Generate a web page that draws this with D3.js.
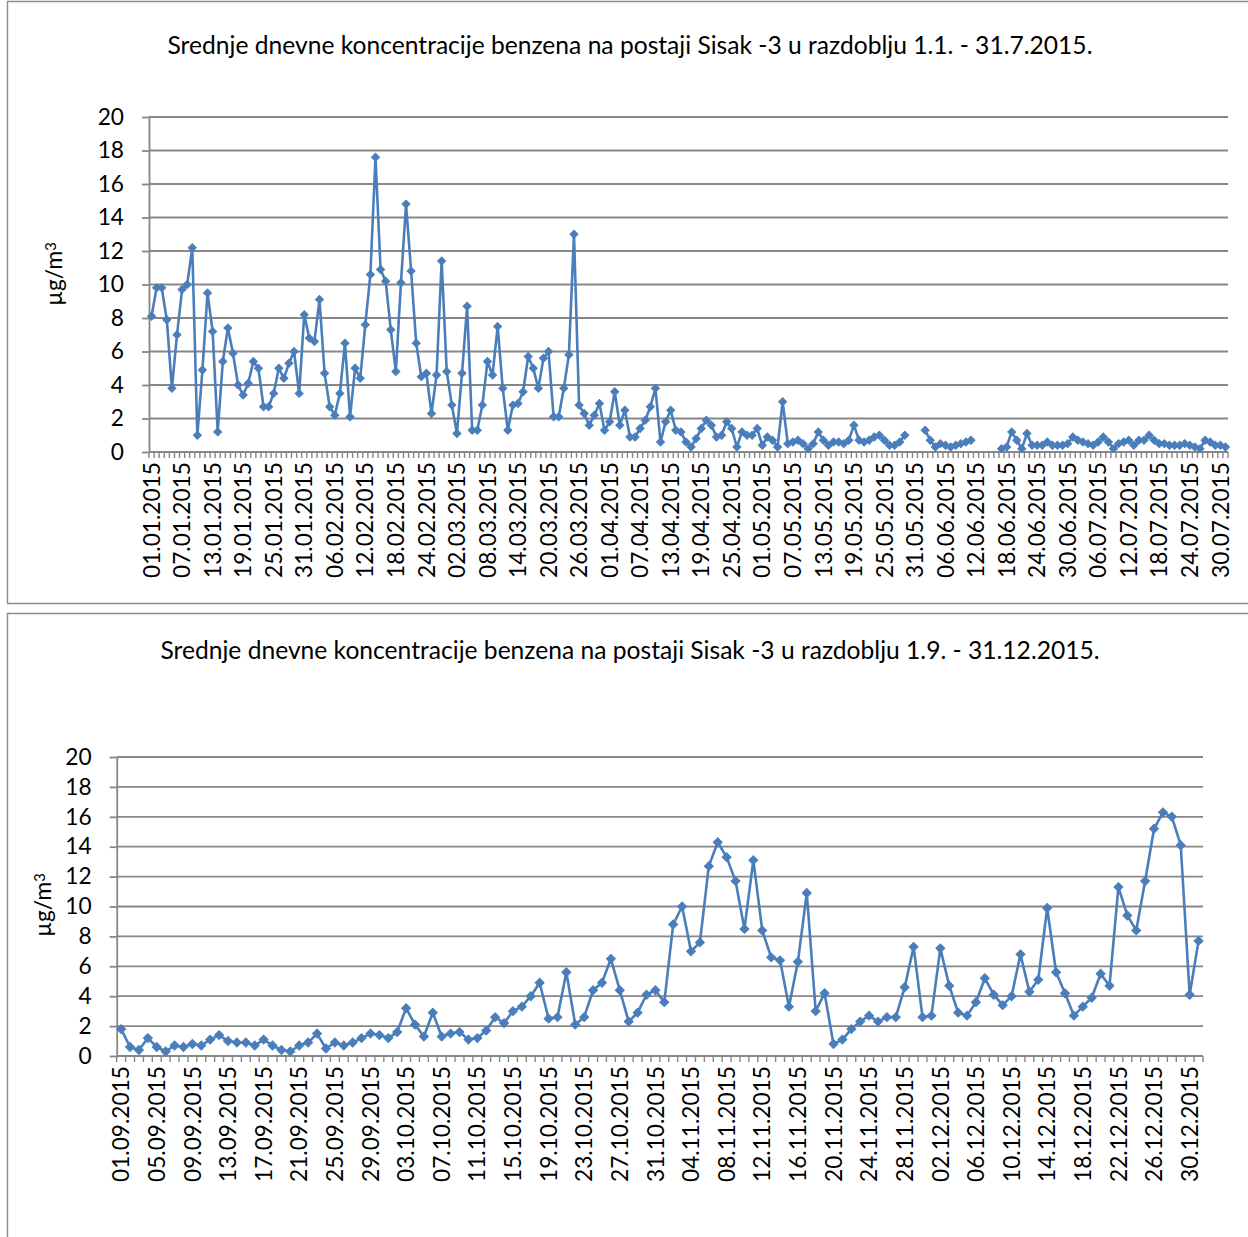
<!DOCTYPE html>
<html>
<head>
<meta charset="utf-8">
<script src="https://cdn.jsdelivr.net/npm/d3@7"></script>
<style>
  body { margin: 0; background: #fff; }
  svg { display: block; font-family: Lato, "Open Sans", sans-serif; }
</style>
</head>
<body>
<svg id="chart" width="1248" height="1237"></svg>
<script>
// chart titles
var titleJanJul = "Srednje dnevne koncentracije benzena na postaji Sisak -3 u razdoblju 1.1. - 31.7.2015.";
var titleSepDec = "Srednje dnevne koncentracije benzena na postaji Sisak -3 u razdoblju 1.9. - 31.12.2015.";

// y axis ticks (µg/m3)
var yTicks = [0, 2, 4, 6, 8, 10, 12, 14, 16, 18, 20];

// daily periods (end is exclusive) and the step between date labels
var periodJanJul = [new Date(2015, 0, 1), new Date(2015, 7, 1)];
var periodSepDec = [new Date(2015, 8, 1), new Date(2016, 0, 1)];
var labelStepJanJul = 6;
var labelStepSepDec = 4;

// daily mean benzene, 1.1. - 31.7.2015 (null = no measurement)
var benzeneJanJul = [
  8.1, 9.8, 9.8, 7.9, 3.8, 7.0, 9.7, 10.0, 12.2, 1.0,
  4.9, 9.5, 7.2, 1.2, 5.4, 7.4, 5.9, 4.0, 3.4, 4.1,
  5.4, 5.0, 2.7, 2.7, 3.5, 5.0, 4.4, 5.3, 6.0, 3.5,
  8.2, 6.8, 6.6, 9.1, 4.7, 2.7, 2.2, 3.5, 6.5, 2.1,
  5.0, 4.4, 7.6, 10.6, 17.6, 10.9, 10.2, 7.3, 4.8, 10.1,
  14.8, 10.8, 6.5, 4.5, 4.7, 2.3, 4.6, 11.4, 4.8, 2.8,
  1.1, 4.7, 8.7, 1.3, 1.3, 2.8, 5.4, 4.6, 7.5, 3.8,
  1.3, 2.8, 2.9, 3.6, 5.7, 5.0, 3.8, 5.6, 6.0, 2.1,
  2.1, 3.8, 5.8, 13.0, 2.8, 2.3, 1.6, 2.2, 2.9, 1.3,
  1.8, 3.6, 1.6, 2.5, 0.9, 0.9, 1.4, 1.9, 2.7, 3.8,
  0.6, 1.8, 2.5, 1.3, 1.2, 0.6, 0.3, 0.8, 1.4, 1.9,
  1.6, 0.9, 1.0, 1.8, 1.4, 0.3, 1.2, 1.0, 1.0, 1.4,
  0.4, 0.9, 0.7, 0.3, 3.0, 0.5, 0.6, 0.7, 0.5, 0.2,
  0.5, 1.2, 0.7, 0.4, 0.6, 0.6, 0.5, 0.7, 1.6, 0.7,
  0.6, 0.7, 0.9, 1.0, 0.7, 0.4, 0.4, 0.6, 1.0, null,
  null, null, 1.3, 0.7, 0.3, 0.5, 0.4, 0.3, 0.4, 0.5,
  0.6, 0.7, null, null, null, null, null, 0.2, 0.3, 1.2,
  0.7, 0.2, 1.1, 0.4, 0.4, 0.4, 0.6, 0.4, 0.4, 0.4,
  0.5, 0.9, 0.7, 0.6, 0.5, 0.4, 0.6, 0.9, 0.6, 0.2,
  0.5, 0.6, 0.7, 0.4, 0.7, 0.7, 1.0, 0.7, 0.5, 0.5,
  0.4, 0.4, 0.4, 0.5, 0.4, 0.3, 0.2, 0.7, 0.6, 0.4,
  0.4, 0.3
];

// daily mean benzene, 1.9. - 31.12.2015
var benzeneSepDec = [
  1.8, 0.6, 0.4, 1.2, 0.6, 0.3, 0.7, 0.6, 0.8, 0.7,
  1.1, 1.4, 1.0, 0.9, 0.9, 0.7, 1.1, 0.7, 0.4, 0.3,
  0.7, 0.9, 1.5, 0.5, 0.9, 0.7, 0.9, 1.2, 1.5, 1.4,
  1.2, 1.6, 3.2, 2.1, 1.3, 2.9, 1.3, 1.5, 1.6, 1.1,
  1.2, 1.7, 2.6, 2.2, 3.0, 3.3, 4.0, 4.9, 2.5, 2.6,
  5.6, 2.1, 2.6, 4.4, 4.9, 6.5, 4.4, 2.3, 2.9, 4.1,
  4.4, 3.6, 8.8, 10.0, 7.0, 7.6, 12.7, 14.3, 13.3, 11.7,
  8.5, 13.1, 8.4, 6.6, 6.4, 3.3, 6.3, 10.9, 3.0, 4.2,
  0.8, 1.1, 1.8, 2.3, 2.7, 2.3, 2.6, 2.6, 4.6, 7.3,
  2.6, 2.7, 7.2, 4.7, 2.9, 2.7, 3.6, 5.2, 4.1, 3.4,
  4.0, 6.8, 4.3, 5.1, 9.9, 5.6, 4.2, 2.7, 3.3, 3.9,
  5.5, 4.7, 11.3, 9.4, 8.4, 11.7, 15.2, 16.3, 16.0, 14.1,
  4.1, 7.7
];

var lineColor = "#4a7ebb";
var gridColor = "#878787";
var frameColor = "#8c8c8c";
var fmtDay = d3.timeFormat("%d.%m.%Y");

var svg = d3.select("#chart");

function textWidth (str, size) {
  var t = svg.append("text").style("font-size", size + "px").text(str);
  var w = t.node().getComputedTextLength();
  t.remove();
  return w;
}

// sizes fitted so the texts take the same room as in the original
var tickFont = 100 * 116 / textWidth("01.01.2015", 100);
var titleFont = 100 * 925 / textWidth(titleJanJul, 100);

function drawChart (opt) {
  var days = d3.timeDay.range(opt.period[0], opt.period[1]);
  var rows = days.map(function (d, i) { return { day: d, value: opt.values[i] }; });

  var frame = svg.append("g");
  frame.append("path")
    .attr("d", opt.framePath)
    .attr("fill", "none")
    .attr("stroke", frameColor)
    .attr("stroke-width", 1.4);

  frame.append("text")
    .attr("x", opt.titleX)
    .attr("y", opt.titleY)
    .attr("text-anchor", "middle")
    .style("font-size", titleFont + "px")
    .style("fill", "#000")
    .text(opt.title);

  var x = d3.scaleBand()
    .domain(days)
    .range([opt.left, opt.right])
    .paddingInner(0)
    .paddingOuter(0);

  var y = d3.scaleLinear()
    .domain([0, 20])
    .range([opt.bottom, opt.top]);

  var g = svg.append("g");

  // horizontal gridlines
  g.selectAll("line.grid")
    .data(yTicks)
    .enter().append("line")
    .attr("class", "grid")
    .attr("x1", opt.left)
    .attr("x2", opt.right)
    .attr("y1", function (d) { return y(d); })
    .attr("y2", function (d) { return y(d); })
    .attr("stroke", gridColor)
    .attr("stroke-width", 1.8);

  // y axis
  var yAxis = g.append("g")
    .attr("transform", "translate(" + opt.left + ",0)")
    .call(d3.axisLeft(y).tickValues(yTicks).tickSize(7).tickPadding(18).tickSizeOuter(0));
  yAxis.select(".domain").attr("stroke", gridColor).attr("stroke-width", 1.8);
  yAxis.selectAll(".tick line").attr("stroke", gridColor).attr("stroke-width", 1.8);
  yAxis.selectAll(".tick text")
    .style("font-family", "Lato, 'Open Sans', sans-serif")
    .style("font-size", tickFont + "px")
    .style("fill", "#000");

  // x axis: a tick mark at every day boundary, a label every few days
  var bounds = days.map(function (d) { return x(d); }).concat([opt.right]);
  g.selectAll("line.xtick")
    .data(bounds)
    .enter().append("line")
    .attr("class", "xtick")
    .attr("x1", function (d) { return d; })
    .attr("x2", function (d) { return d; })
    .attr("y1", opt.bottom)
    .attr("y2", opt.bottom + 6)
    .attr("stroke", gridColor)
    .attr("stroke-width", 1.4);

  var labelDays = days.filter(function (d, i) { return i % opt.labelStep === 0; });
  var xAxis = g.append("g")
    .attr("transform", "translate(0," + opt.bottom + ")")
    .call(d3.axisBottom(x).tickValues(labelDays).tickFormat(fmtDay).tickSize(0));
  xAxis.select(".domain").remove();
  xAxis.selectAll(".tick text")
    .attr("transform", "rotate(-90)")
    .attr("x", -10)
    .attr("y", 0)
    .attr("dy", "0.36em")
    .attr("text-anchor", "end")
    .style("font-family", "Lato, 'Open Sans', sans-serif")
    .style("font-size", tickFont + "px")
    .style("fill", "#000");

  // x axis baseline drawn over the 0 gridline
  g.append("line")
    .attr("x1", opt.left)
    .attr("x2", opt.right)
    .attr("y1", opt.bottom)
    .attr("y2", opt.bottom)
    .attr("stroke", gridColor)
    .attr("stroke-width", 1.8);

  // y axis title
  var yt = g.append("text")
    .attr("transform", "translate(" + opt.yTitleX + "," + opt.yTitleY + ") rotate(-90)")
    .attr("text-anchor", "middle")
    .attr("dy", "0.36em")
    .style("font-size", tickFont + "px")
    .style("fill", "#000");
  yt.append("tspan").text("µg/m");
  yt.append("tspan")
    .attr("dy", "-0.4em")
    .style("font-size", (tickFont * 0.65) + "px")
    .text("3");

  var cx = function (d) { return x(d.day) + x.bandwidth() / 2; };

  var line = d3.line()
    .defined(function (d) { return d.value != null; })
    .x(cx)
    .y(function (d) { return y(d.value); });

  g.append("path")
    .datum(rows)
    .attr("d", line)
    .attr("fill", "none")
    .attr("stroke", lineColor)
    .attr("stroke-width", 2.6)
    .attr("stroke-linejoin", "round");

  var diamond = d3.symbol().type(d3.symbolSquare).size(opt.markerSize);
  g.selectAll("path.marker")
    .data(rows.filter(function (d) { return d.value != null; }))
    .enter().append("path")
    .attr("class", "marker")
    .attr("d", diamond)
    .attr("transform", function (d) { return "translate(" + cx(d) + "," + y(d.value) + ") rotate(45)"; })
    .attr("fill", lineColor)
    .attr("stroke", lineColor)
    .attr("stroke-width", 1);
}

drawChart({
  title: titleJanJul,
  titleX: 630, titleY: 54,
  framePath: "M1260,1.5 H7.5 V603.5 H1260",
  period: periodJanJul,
  values: benzeneJanJul,
  labelStep: labelStepJanJul,
  left: 149, right: 1228, top: 117, bottom: 452,
  yTitleX: 54, yTitleY: 274,
  markerSize: 32
});

drawChart({
  title: titleSepDec,
  titleX: 630, titleY: 659,
  framePath: "M1260,613.5 H7.5 V1240",
  period: periodSepDec,
  values: benzeneSepDec,
  labelStep: labelStepSepDec,
  left: 116.7, right: 1203, top: 757, bottom: 1056,
  yTitleX: 43, yTitleY: 905,
  markerSize: 40
});
</script>
</body>
</html>
